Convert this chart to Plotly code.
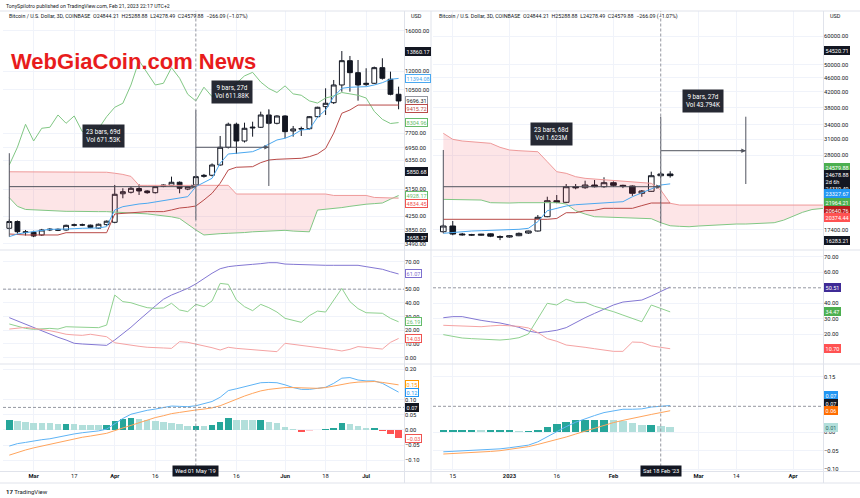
import math
import pandas as pd
import plotly.graph_objects as go

W, H = 860, 498
FONT = "Roboto"
INK = "#131722"
GRID = "#f0f3fa"
SEP = "#e0e3eb"
DASH = "#9598a1"
L10 = math.log10


def px(v):
    return v / W


def py(v):
    return 1 - v / H


# ====================== LEFT CHART : BTCUSD 3D, 2019 ======================
l_dates = pd.date_range("2019-02-21", periods=49, freq="3D")
l_open = [3897, 4090, 3803, 3787, 3715, 3850, 3870, 3850, 3980, 3995, 3985, 3900, 4000,
          4068, 4990, 5043, 5180, 5090, 5028, 5260, 5300, 5417, 5160, 5314, 5650,
          5696, 6131, 6960, 8205, 7280, 7990, 8031, 8770, 8263, 8707, 7821, 7933,
          7950, 8663, 9307, 9577, 10871, 12936, 11872, 10900, 11003, 12304, 11324, 10171]
l_high = [4150, 4120, 3850, 3830, 3880, 3900, 3890, 4000, 4030, 4030, 4000, 4030, 4120,
          5314, 5190, 5250, 5340, 5120, 5280, 5340, 5640, 5450, 5280, 5700, 5750,
          6200, 7546, 8300, 8300, 8299, 8358, 8979, 9135, 8750, 8750, 8106, 8066,
          8700, 9300, 10616, 11266, 13860.17, 13378, 13000, 12251, 12400, 13160, 11957, 10739]
l_low = [3870, 3750, 3700, 3658.37, 3690, 3820, 3820, 3830, 3950, 3960, 3900, 3880, 3970,
         4040, 4831, 5000, 4946, 4990, 5000, 5230, 5280, 5007, 5120, 5260, 5600,
         5650, 6100, 6900, 6634, 7200, 7508, 7990, 8200, 8200, 7423, 7508, 7546,
         7900, 8600, 8770, 9489, 10361, 10361, 9715, 10800, 10950, 11300, 10100, 9135]
l_close = [4090, 3803, 3780, 3688, 3850, 3870, 3845, 3980, 3995, 3990, 3920, 4011, 4100,
           4971, 5064, 5189, 5090, 5028, 5250, 5310, 5417, 5189, 5250, 5640, 5690,
           6131, 6960, 8205, 7280, 7973, 8031, 8770, 8263, 8707, 7782, 7933, 7950,
           8663, 9267, 9536, 10871, 12936, 11872, 10871, 11003, 12304, 11405, 10171, 9696.31]
l_tenkan = [3670, 3741, 3776, 3803, 3822, 3869, 3869, 3869, 3886, 3897, 3897, 3906, 3943,
            4443, 4549, 4605, 4638, 4661, 4704, 4749, 4797, 4831, 4887, 5250, 5402,
            5574, 6206, 6634, 6667, 6696, 6744, 6909, 7125, 7333, 7423, 7600, 7877,
            7915, 8626, 9090, 9997, 10616, 10693, 10693, 10739, 10871, 11051, 11324, 11394.08]
l_kijun = [3741, 3723, 3715, 3715, 3715, 3715, 3715, 3776, 3776, 3776, 3776, 3776, 3776,
           4317, 4335, 4357, 4379, 4390, 4390, 4390, 4443, 4505, 4530, 4571, 4773,
           5007, 5379, 5915, 6031, 6057, 6057, 6234, 6352, 6386, 6400, 6415, 6432,
           6507, 6634, 6900, 7700, 8877, 9090, 9415.72, 9415.72, 9415.72, 9415.72, 9415.72, 9415.72]
l_lagging = [6131, 6960, 8205, 7280, 7973, 8031, 8770, 8263, 8707, 7782, 7933, 7950, 8663,
             9267, 9536, 10871, 12936, 11872, 10871, 11003, 12304, 11405, 10171, 9696.31, 10700,
             10000, 10300, 10600, 11000, 11600, 11900, 11100, 10600, 10300, 10800, 10200, 10100,
             9700, 9550, 9900, 10050, 10300, 10200, 10100, 9900, 9000, 8500, 8250, 8304.96]
l_span_a = [4850, 4560, 4460, 4447, 4420, 4420, 4410, 4400, 4400, 4390, 4390, 4390, 4390,
            4380, 4370, 4350, 4340, 4320, 4290, 4270, 4230, 4180, 4000, 3850, 3715,
            3740, 3750, 3760, 3760, 3780, 3800, 3810, 3820, 3850, 3840, 3820, 3810,
            3800, 4440, 4460, 4490, 4520, 4560, 4600, 4630, 4650, 4670, 4800, 4928.17]
l_span_b = [5840, 5840, 5840, 5840, 5840, 5840, 5840, 5840, 5840, 5840, 5830, 5820, 5820,
            5780, 5730, 5650, 5300, 5300, 5300, 5300, 5300, 5300, 5300, 5300, 5300,
            5300, 5300, 5300, 4980, 4980, 4980, 4980, 4980, 4980, 4980, 4980, 4980,
            4980, 4980, 4980, 4930, 4930, 4930, 4930, 4930, 4860, 4850, 4840, 4834.45]
l_adx = [29.2, 26.8, 24.1, 21.9, 19.7, 17.3, 14.9, 12.9, 10.5, 10.0, 9.5, 9.0, 9.0,
         12.9, 17.3, 22.2, 27.5, 32.8, 37.7, 42.6, 45.7, 48.1, 50.6, 53.8, 57.9,
         61.6, 64.9, 66.4, 67.1, 67.4, 68.1, 68.6, 69.3, 69.3, 68.3, 68.1, 67.8,
         67.8, 67.6, 67.4, 67.4, 67.4, 67.6, 67.4, 66.4, 65.4, 64.5, 62.7, 61.07]
l_pdi = [24.6, 23.1, 21.4, 20.7, 21.2, 21.4, 20.9, 22.6, 22.4, 22.1, 21.7, 21.9, 23.8,
         45.7, 40.9, 40.1, 38.2, 36.5, 36.0, 36.3, 39.7, 34.8, 33.6, 38.9, 37.2,
         41.4, 54.2, 53.5, 42.1, 37.2, 34.3, 38.9, 36.5, 33.3, 28.7, 27.0, 25.8,
         30.7, 34.0, 33.3, 42.1, 50.6, 40.9, 35.8, 32.8, 32.6, 32.4, 28.7, 26.19]
l_mdi = [20.9, 21.7, 22.1, 21.4, 20.7, 19.7, 18.5, 17.1, 16.6, 16.3, 17.1, 16.3, 15.3,
         10.9, 10.0, 8.8, 8.3, 7.6, 7.6, 7.1, 6.8, 11.7, 11.2, 10.0, 8.8,
         7.3, 5.6, 7.6, 6.8, 6.3, 5.6, 5.1, 4.6, 4.4, 10.5, 9.8, 9.0,
         8.1, 7.6, 6.8, 5.9, 4.9, 6.1, 8.1, 7.6, 6.8, 6.3, 11.2, 14.03]
l_macd = [-0.053, -0.045, -0.041, -0.036, -0.032, -0.029, -0.023, -0.018, -0.013, -0.009, -0.0055, -0.003, 0.003,
          0.020, 0.038, 0.052, 0.059, 0.065, 0.069, 0.075, 0.079, 0.078, 0.077, 0.080, 0.086,
          0.094, 0.108, 0.130, 0.136, 0.143, 0.149, 0.156, 0.157, 0.156, 0.149, 0.140, 0.134,
          0.134, 0.1375, 0.141, 0.154, 0.171, 0.173, 0.165, 0.162, 0.162, 0.154, 0.139, 0.125]
l_signal = [-0.083, -0.074, -0.066, -0.059, -0.053, -0.046, -0.040, -0.034, -0.029, -0.024, -0.020, -0.015, -0.011,
            -0.002, 0.0066, 0.0165, 0.026, 0.033, 0.041, 0.047, 0.054, 0.058, 0.063, 0.066, 0.069,
            0.073, 0.080, 0.091, 0.102, 0.112, 0.121, 0.129, 0.134, 0.1375, 0.140, 0.140, 0.139,
            0.1375, 0.1375, 0.140, 0.145, 0.151, 0.155, 0.158, 0.160, 0.160, 0.157, 0.153, 0.149]
l_hist = [0.033, 0.030, 0.026, 0.024, 0.023, 0.022, 0.020, 0.021, 0.020, 0.018, 0.0165, 0.015, 0.0165,
          0.029, 0.037, 0.040, 0.036, 0.032, 0.029, 0.026, 0.022, 0.019, 0.013, 0.014, 0.013,
          0.017, 0.025, 0.038, 0.034, 0.033, 0.032, 0.033, 0.025, 0.022, 0.009, 0.002, -0.006,
          -0.004, -0.001, 0.003, 0.007, 0.023, 0.021, 0.012, 0.005, 0.006, -0.004, -0.013, -0.027]

# ====================== RIGHT CHART : BTCUSD 3D, 2022-23 ======================
r_dates = pd.date_range("2022-12-11", periods=25, freq="3D")
r_cloud_dates = pd.date_range("2022-12-11", periods=42, freq="3D")
r_open = [17183, 17821, 16931, 16850, 16800, 16950, 16650, 16610, 16750, 17040, 17261, 18911, 20945,
          20735, 22907, 22763, 23155, 22907, 23500, 23110, 23008, 21962, 22244, 24574, 24844.21]
r_high = [18000, 18400, 17050, 16950, 16950, 17000, 16780, 16800, 17100, 17300, 19115, 21487, 21721,
          23306, 23306, 23802, 23909, 24325, 23700, 23200, 23100, 22430, 25212, 25200, 25288.88]
r_low = [17100, 16800, 16750, 16740, 16750, 16600, 16283.21, 16550, 16700, 16950, 17200, 18850, 20604,
         20650, 22530, 22600, 22800, 22750, 22900, 22700, 21600, 21487, 22200, 24300, 24278.49]
r_close = [17821, 16931, 16850, 16830, 16900, 16700, 16600, 16740, 17000, 17261, 18838, 20945, 20735,
           22907, 22763, 23155, 22907, 23500, 23110, 23010, 21962, 22287, 24574, 24842, 24579.88]
r_tenkan = [17008, 17118, 17228, 17261, 17294, 17339, 17339, 17372, 17450, 17559, 18318, 19650, 19951,
            20250, 20418, 20510, 20604, 20683, 20735, 20815, 21487, 22045, 22530, 23155, 23327.67]
r_kijun = [18600, 18600, 18600, 18600, 18600, 18600, 18600, 18600, 18600, 18600, 18600, 18600, 18700,
           19400, 19400, 19650, 19700, 19950, 19950, 19950, 19950, 20300, 20640.76, 20640.76, 20640.76]
r_span_a = [21128, 21082, 21082, 21040, 21040, 20683, 20640, 20640, 20683, 20683, 20683, 20683, 20683,
            20510, 19650, 19238, 18911, 18875, 18838, 18791, 18756, 18719, 18672, 18200, 17850,
            17783, 17740, 17821, 17897, 17966, 18012, 18048, 18048, 18083, 18131, 18200, 18500,
            19000, 19450, 19800, 19900, 20050]
r_span_b = [32220, 31007, 30674, 30540, 30343, 30227, 29465, 28964, 28832, 28720, 28646, 26873, 25212,
            24953, 24420, 24167, 24062, 23909, 23802, 23754, 23650, 23605, 23412, 22430, 20604,
            20374.44, 20374.44, 20374.44, 20374.44, 20374.44, 20374.44, 20374.44, 20374.44, 20374.44,
            20374.44, 20374.44, 20374.44, 20374.44, 20374.44, 20374.44, 20374.44, 20374.44]
r_adx = [30.7, 31.4, 31.4, 30.1, 29.0, 28.1, 27.3, 26.0, 24.5, 22.1, 21.0, 21.7, 22.6,
         24.3, 27.7, 30.7, 33.5, 36.3, 38.9, 40.8, 41.5, 42.1, 44.7, 47.7, 50.51]
r_pdi = [19.8, 18.5, 17.6, 17.2, 17.0, 16.8, 16.3, 16.8, 17.8, 20.2, 29.7, 40.0, 38.9,
         42.6, 40.6, 40.6, 38.1, 36.5, 34.6, 32.4, 30.1, 28.1, 38.9, 36.5, 34.47]
r_mdi = [25.8, 25.5, 25.5, 25.1, 24.9, 25.4, 25.8, 25.5, 25.1, 24.1, 21.1, 17.2, 15.5,
         13.1, 12.5, 11.6, 10.7, 9.9, 9.0, 9.0, 15.0, 14.8, 12.5, 11.6, 10.70]
r_macd = [-0.053, -0.052, -0.051, -0.050, -0.049, -0.047, -0.045, -0.042, -0.039, -0.035, -0.026, -0.012, 0.000,
          0.015, 0.027, 0.037, 0.045, 0.053, 0.058, 0.062, 0.062, 0.063, 0.068, 0.071, 0.072]
r_signal = [-0.059, -0.058, -0.057, -0.056, -0.054, -0.052, -0.050, -0.047, -0.043, -0.039, -0.033, -0.027, -0.021,
            -0.013, -0.005, 0.003, 0.011, 0.019, 0.026, 0.032, 0.038, 0.043, 0.048, 0.053, 0.058]
r_hist = [0.006, 0.006, 0.006, 0.006, 0.005, 0.005, 0.005, 0.005, 0.004, 0.004, 0.007, 0.015, 0.021,
          0.028, 0.032, 0.034, 0.034, 0.034, 0.032, 0.030, 0.024, 0.020, 0.020, 0.018, 0.014]

# ====================== ticks / texts ======================
l_price_ticks = [16000, 12000, 10500, 7700, 6950, 6350, 5150, 4250, 3850, 3490]
r_price_ticks = [60000, 50000, 46000, 42000, 38000, 34000, 31000, 28000, 17400]
l_dmi_ticks = [0, 10, 20, 30, 40, 50, 70]
r_dmi_ticks = [20, 30, 40, 60, 70]
l_macd_ticks = [-0.10, -0.05, 0.00, 0.05, 0.10, 0.20]
r_macd_ticks = [-0.10, -0.05, 0.00, 0.15]
l_time_ticks = ["2019-03-02", "2019-03-17", "2019-04-01", "2019-04-16", "2019-05-16",
                "2019-06-03", "2019-06-18", "2019-07-03"]
l_time_text = ["<b>Mar</b>", "17", "<b>Apr</b>", "16", "16", "<b>Jun</b>", "18", "<b>Jul</b>"]
r_time_ticks = ["2022-12-14", "2023-01-01", "2023-01-16", "2023-02-03", "2023-03-02",
                "2023-03-14", "2023-04-01"]
r_time_text = ["15", "<b>2023</b>", "16", "<b>Feb</b>", "<b>Mar</b>", "14", "<b>Apr</b>"]
l_cross_date, l_cross_text = "2019-05-01", "Wed 01 May '19"
r_cross_date, r_cross_text = "2023-02-18", "Sat 18 Feb '23"
legend_text = ("Bitcoin / U.S. Dollar, 3D, COINBASE  O24844.21  H25288.88  L24278.49  "
               "C24579.88  −266.09 (−1.07%)")
byline = "TonySpilotro published on TradingView.com, Feb 21, 2023 22:17 UTC+2"

# drawings (horizontal lines and date-range tools)
l_hlines = [13860.17, 5850.68, 3658.37]
r_hlines = [54520.71, 24678.88, 16283.21]
meas_verticals = [("x", "y", "2019-02-21", 3670, 6670), ("x", "y", "2019-05-01", 4133, 9090),
                  ("x", "y", "2019-05-28", 5275, 9090),
                  ("x4", "y4", "2022-12-11", 17008, 28964), ("x4", "y4", "2023-02-18", 18131, 35826),
                  ("x4", "y4", "2023-03-17", 23306, 35826)]
meas_arrows = [("x", "y", "2019-02-21", "2019-05-01", 5250), ("x", "y", "2019-05-01", "2019-05-28", 6960),
               ("x4", "y4", "2022-12-11", "2023-02-18", 22907), ("x4", "y4", "2023-02-18", "2023-03-17", 28832)]
meas_boxes = [("x", "y", "2019-03-27 16:00", 7546, "23 bars, 69d<br>Vol 671.53K"),
              ("x", "y", "2019-05-14 10:00", 10339, "9 bars, 27d<br>Vol 611.88K"),
              ("x4", "y4", "2023-01-14 08:00", 32160, "23 bars, 68d<br>Vol 1.623M"),
              ("x4", "y4", "2023-03-03 10:00", 39730, "9 bars, 27d<br>Vol 43.794K")]


def fmt(v):
    return f"{v:.2f}".replace("-", "−")


def hist_colors(h):
    out = []
    for i, v in enumerate(h):
        prev = h[i - 1] if i > 0 else v
        if v >= 0:
            out.append("#26a69a" if v >= prev else "#b2dfdb")
        else:
            out.append("#ff5252" if v < prev else "#ffcdd2")
    return out


fig = go.Figure()
NOHOVER = dict(hoverinfo="skip", showlegend=False)
BAR_W = 3 * 86400000 * 0.8


def line(x, y, color, xa, ya, width=1.0):
    fig.add_trace(go.Scatter(x=x, y=y, mode="lines", line=dict(color=color, width=width),
                             xaxis=xa, yaxis=ya, **NOHOVER))


def cloud(x, a, b, color, xa, ya):
    fig.add_trace(go.Scatter(x=x, y=b, mode="lines", line=dict(width=0, color="rgba(0,0,0,0)"),
                             xaxis=xa, yaxis=ya, **NOHOVER))
    fig.add_trace(go.Scatter(x=x, y=a, mode="lines", line=dict(width=0, color="rgba(0,0,0,0)"),
                             fill="tonexty", fillcolor=color, xaxis=xa, yaxis=ya, **NOHOVER))


def candles(x, o, h, l, c, xa, ya):
    fig.add_trace(go.Candlestick(
        x=x, open=o, high=h, low=l, close=c, xaxis=xa, yaxis=ya, whiskerwidth=0,
        increasing=dict(line=dict(color=INK, width=1), fillcolor="#ffffff"),
        decreasing=dict(line=dict(color=INK, width=1), fillcolor=INK),
        hoverinfo="skip", showlegend=False))


PINK = "rgba(242,54,69,0.13)"
GREENF = "rgba(76,175,80,0.15)"
C_TENKAN, C_KIJUN, C_LAG = "#4aa8f0", "#b94a48", "#81c784"
C_SPA, C_SPB = "#81c784", "#ef9a9a"
C_ADX, C_PDI, C_MDI = "#8377d3", "#8fd18f", "#f5a3a3"
C_MACD, C_SIG = "#5eb3f5", "#ffa45c"
MEAS = "#50535e"

# ---- left price
cloud(l_dates[:48], l_span_a[:48], l_span_b[:48], PINK, "x", "y")
cloud(l_dates[47:], l_span_a[47:], l_span_b[47:], GREENF, "x", "y")
candles(l_dates, l_open, l_high, l_low, l_close, "x", "y")
line(l_dates, l_span_a, C_SPA, "x", "y")
line(l_dates, l_span_b, C_SPB, "x", "y")
line(l_dates, l_lagging, C_LAG, "x", "y")
line(l_dates, l_kijun, C_KIJUN, "x", "y")
line(l_dates, l_tenkan, C_TENKAN, "x", "y")
# ---- left DMI
line(l_dates, l_adx, C_ADX, "x2", "y2")
line(l_dates, l_pdi, C_PDI, "x2", "y2")
line(l_dates, l_mdi, C_MDI, "x2", "y2")
# ---- left MACD
fig.add_trace(go.Bar(x=l_dates, y=l_hist, marker=dict(color=hist_colors(l_hist), line=dict(width=0)),
                     width=BAR_W, xaxis="x3", yaxis="y3", **NOHOVER))
line(l_dates, l_macd, C_MACD, "x3", "y3")
line(l_dates, l_signal, C_SIG, "x3", "y3")

# ---- right price
cloud(r_cloud_dates, r_span_a, r_span_b, PINK, "x4", "y4")
candles(r_dates, r_open, r_high, r_low, r_close, "x4", "y4")
line(r_cloud_dates, r_span_a, C_SPA, "x4", "y4")
line(r_cloud_dates, r_span_b, C_SPB, "x4", "y4")
line(r_dates, r_kijun, C_KIJUN, "x4", "y4")
line(r_dates, r_tenkan, C_TENKAN, "x4", "y4")
# ---- right DMI
line(r_dates, r_adx, C_ADX, "x5", "y5")
line(r_dates, r_pdi, C_PDI, "x5", "y5")
line(r_dates, r_mdi, C_MDI, "x5", "y5")
# ---- right MACD
fig.add_trace(go.Bar(x=r_dates, y=r_hist, marker=dict(color=hist_colors(r_hist), line=dict(width=0)),
                     width=BAR_W, xaxis="x6", yaxis="y6", **NOHOVER))
line(r_dates, r_macd, C_MACD, "x6", "y6")
line(r_dates, r_signal, C_SIG, "x6", "y6")

# ---- date-range measurement tools (drawn as line traces)
for xa, ya, d, lo, hi in meas_verticals:
    line([d, d], [lo, hi], MEAS, xa, ya)
for xa, ya, d0, d1, lev in meas_arrows:
    line([d0, d1], [lev, lev], MEAS, xa, ya)
    fig.add_annotation(xref=xa, yref=ya, x=d1, y=L10(lev), ax=-7, ay=0, text="", showarrow=True,
                       arrowhead=2, arrowsize=0.9, arrowwidth=1, arrowcolor=MEAS)

# ====================== axes ======================
TICKF = dict(family=FONT, size=5.8, color=INK)
LX = [px(3), px(404)]
RX = [px(433), px(823)]
PRICE_D = [py(250), py(11)]
DMI_D = [py(364), py(250)]
MACD_D = [py(471.5), py(364)]
L_XR = ["2019-02-18 16:00", "2019-07-17 00:00"]
R_XR = ["2022-12-07 17:30", "2023-04-10 12:00"]


def xax(dom, rng, tv, tt, anchor, show):
    return dict(domain=dom, range=rng, type="date", anchor=anchor, showgrid=True, gridcolor=GRID,
                gridwidth=1, tickmode="array", tickvals=tv, ticktext=tt, showticklabels=show,
                tickfont=TICKF, ticks="", showline=False, zeroline=False,
                rangeslider=dict(visible=False), fixedrange=True)


def yax(dom, rng, tv, anchor, log=False):
    d = dict(domain=dom, range=rng, anchor=anchor, side="right", showgrid=True, gridcolor=GRID,
             gridwidth=1, tickmode="array", tickvals=tv, ticktext=[fmt(v) for v in tv],
             tickfont=TICKF, ticks="", showline=False, zeroline=False, fixedrange=True)
    if log:
        d["type"] = "log"
    return d


fig.update_layout(
    width=W, height=H, margin=dict(l=0, r=0, t=0, b=0),
    paper_bgcolor="#ffffff", plot_bgcolor="#ffffff", showlegend=False,
    font=dict(family=FONT, color=INK), bargap=0, boxgap=0.15,
    xaxis=xax(LX, L_XR, l_time_ticks, l_time_text, "y", False),
    xaxis2=xax(LX, L_XR, l_time_ticks, l_time_text, "y2", False),
    xaxis3=xax(LX, L_XR, l_time_ticks, l_time_text, "y3", True),
    xaxis4=xax(RX, R_XR, r_time_ticks, r_time_text, "y4", False),
    xaxis5=xax(RX, R_XR, r_time_ticks, r_time_text, "y5", False),
    xaxis6=xax(RX, R_XR, r_time_ticks, r_time_text, "y6", True),
    yaxis=yax(PRICE_D, [L10(3336), L10(18460)], l_price_ticks, "x", log=True),
    yaxis2=yax(DMI_D, [-4.6, 78.56], l_dmi_ticks, "x2"),
    yaxis3=yax(MACD_D, [-0.137, 0.2178], l_macd_ticks, "x3"),
    yaxis4=yax(PRICE_D, [L10(15288), L10(70394)], r_price_ticks, "x4", log=True),
    yaxis5=yax(DMI_D, [0.84, 74.39], r_dmi_ticks, "x5"),
    yaxis6=yax(MACD_D, [-0.1062, 0.1843], r_macd_ticks, "x6"),
)

# ====================== shapes ======================
shapes = []
DASHSTYLE = "3px,2px"
for yy in (11, 250, 364, 471.5, 483):
    shapes.append(dict(type="line", xref="paper", yref="paper", x0=0, x1=1, y0=py(yy), y1=py(yy),
                       line=dict(color=SEP, width=1)))
for xx in (404.5, 431, 823.5):
    shapes.append(dict(type="line", xref="paper", yref="paper", x0=px(xx), x1=px(xx),
                       y0=py(483), y1=py(11), line=dict(color=SEP, width=1)))
for xa, d in (("x", l_cross_date), ("x4", r_cross_date)):
    shapes.append(dict(type="line", xref=xa, yref="paper", x0=d, x1=d, y0=py(471.5), y1=py(11),
                       line=dict(color=DASH, width=1, dash=DASHSTYLE)))
for v in l_hlines:
    shapes.append(dict(type="line", xref="x domain", yref="y", x0=0, x1=1, y0=L10(v), y1=L10(v),
                       line=dict(color=DASH, width=1, dash=DASHSTYLE)))
for v in r_hlines:
    shapes.append(dict(type="line", xref="x4 domain", yref="y4", x0=0, x1=1, y0=L10(v), y1=L10(v),
                       line=dict(color=DASH, width=1, dash=DASHSTYLE)))
for xa, ya, v in (("x2", "y2", 50), ("x5", "y5", 50), ("x3", "y3", 0.0745), ("x6", "y6", 0.07)):
    shapes.append(dict(type="line", xref=xa + " domain", yref=ya, x0=0, x1=1, y0=v, y1=v,
                       line=dict(color=DASH, width=1, dash=DASHSTYLE)))
fig.update_layout(shapes=shapes)

for xa, ya, d, v, t in meas_boxes:
    fig.add_annotation(xref=xa, yref=ya, x=d, y=L10(v), text=t, showarrow=False,
                       font=dict(family=FONT, size=6.3, color="#ffffff"), bgcolor="rgba(19,23,34,0.92)",
                       borderpad=3, align="center")


# ====================== axis tags ======================
def tag(side, ya, val, text, bg, border, fg, yshift=0, log=False):
    xp = px(405) if side == "L" else px(824)
    fig.add_annotation(xref="paper", x=xp, xanchor="left", yref=ya, y=L10(val) if log else val,
                       yanchor="middle", text=text, showarrow=False, yshift=yshift,
                       font=dict(family=FONT, size=5.5, color=fg), bgcolor=bg, bordercolor=border,
                       borderwidth=1, borderpad=0.6, align="left")


W_ = "#ffffff"
tag("L", "y", 13860.17, fmt(13860.17), INK, INK, W_, log=True)
tag("L", "y", l_tenkan[-1], fmt(l_tenkan[-1]), W_, C_TENKAN, C_TENKAN, log=True)
tag("L", "y", l_close[-1], fmt(l_close[-1]), W_, DASH, INK, log=True)
tag("L", "y", l_kijun[-1], fmt(l_kijun[-1]), W_, C_KIJUN, C_KIJUN, -3, log=True)
tag("L", "y", l_lagging[-1], fmt(l_lagging[-1]), W_, "#66bb6a", "#66bb6a", log=True)
tag("L", "y", 5850.68, fmt(5850.68), INK, INK, W_, log=True)
tag("L", "y", l_span_a[-1], fmt(l_span_a[-1]), W_, "#66bb6a", "#66bb6a", log=True)
tag("L", "y", l_span_b[-1], fmt(l_span_b[-1]), W_, "#ef5350", "#ef5350", -5, log=True)
tag("L", "y", 3658.37, fmt(3658.37), INK, INK, W_, log=True)
tag("L", "y2", l_adx[-1], fmt(l_adx[-1]), W_, "#7e6fcf", "#7e6fcf")
tag("L", "y2", l_pdi[-1], fmt(l_pdi[-1]), W_, "#66bb6a", "#66bb6a")
tag("L", "y2", l_mdi[-1], fmt(l_mdi[-1]), W_, "#ef5350", "#ef5350")
tag("L", "y3", l_signal[-1], fmt(l_signal[-1]), W_, "#ff9800", "#ff9800")
tag("L", "y3", l_macd[-1], fmt(l_macd[-1]), W_, "#2196f3", "#2196f3")
tag("L", "y3", 0.0745, fmt(0.0745), INK, INK, W_)
tag("L", "y3", l_hist[-1], fmt(l_hist[-1]), W_, "#ef5350", "#ef5350")
tag("R", "y4", 54520.71, fmt(54520.71), INK, INK, W_, log=True)
tag("R", "y4", r_close[-1], fmt(r_close[-1]), "#4caf50", "#4caf50", W_, 8, log=True)
tag("R", "y4", 24678.88, "24678.88<br>2d 6h<br>24330.49", INK, INK, W_, -6.5, log=True)
tag("R", "y4", r_tenkan[-1], fmt(r_tenkan[-1]), "#2196f3", "#2196f3", W_, -10, log=True)
tag("R", "y4", 21964.21, fmt(21964.21), "#4caf50", "#4caf50", W_, -9, log=True)
tag("R", "y4", r_kijun[-1], fmt(r_kijun[-1]), "#b71c1c", "#b71c1c", W_, -7, log=True)
tag("R", "y4", r_span_b[-1], fmt(r_span_b[-1]), "#ff5252", "#ff5252", W_, -12.5, log=True)
tag("R", "y4", 16283.21, fmt(16283.21), INK, INK, W_, log=True)
tag("R", "y5", r_adx[-1], fmt(r_adx[-1]), "#3f2b96", "#3f2b96", W_)
tag("R", "y5", r_pdi[-1], fmt(r_pdi[-1]), "#4caf50", "#4caf50", W_)
tag("R", "y5", r_mdi[-1], fmt(r_mdi[-1]), "#ff5252", "#ff5252", W_)
tag("R", "y6", r_macd[-1], fmt(r_macd[-1]), "#2196f3", "#2196f3", W_, 10)
tag("R", "y6", 0.07, fmt(0.07), INK, INK, W_, 3)
tag("R", "y6", r_signal[-1], fmt(r_signal[-1]), "#ff6d00", "#ff6d00", W_)
tag("R", "y6", r_hist[-1], fmt(r_hist[-1]), "#b2dfdb", "#b2dfdb", "#2e6b64")

for xa, d, t in (("x3", l_cross_date, l_cross_text), ("x6", r_cross_date, r_cross_text)):
    fig.add_annotation(xref=xa, x=d, yref="paper", y=py(477), text=t, showarrow=False,
                       font=dict(family=FONT, size=5.8, color="#ffffff"), bgcolor=INK, borderpad=2)


def text(x, y, t, size, color=INK, anchor="left", family=FONT):
    fig.add_annotation(xref="paper", yref="paper", x=px(x), y=py(y), xanchor=anchor, yanchor="middle",
                       text=t, showarrow=False, font=dict(family=family, size=size, color=color))


text(4, 6, byline, 5.2)
text(7, 17, legend_text, 5.3)
text(437, 17, legend_text, 5.3)
text(409, 16, "USD", 5.5)
text(828, 16, "USD", 5.5)
text(4, 491, "<b>17</b> TradingView", 6)
text(9, 61.5, "<b>WebGiaCoin.com News</b>", 22, color="#e81c1c", family="Liberation Sans")

fig.write_html("out.html", config={"displayModeBar": False, "staticPlot": True},
               post_script="document.body.style.margin='0';document.body.style.overflow='hidden';")
